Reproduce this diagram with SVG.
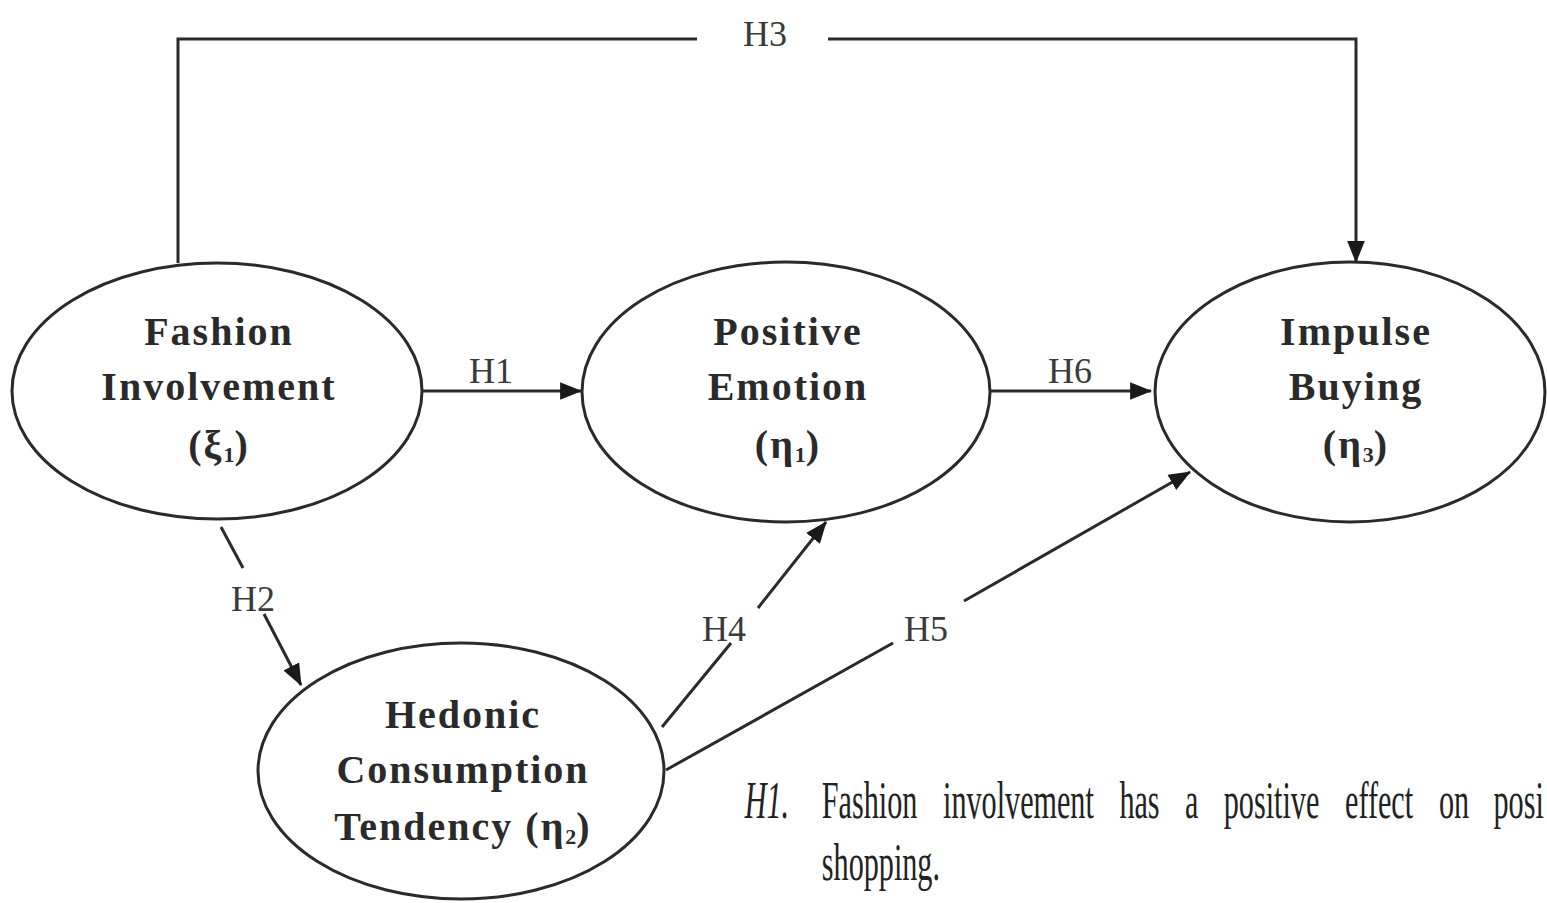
<svg xmlns="http://www.w3.org/2000/svg" width="1547" height="903" viewBox="0 0 1547 903">
<style>
.node ellipse{fill:#fff;stroke:#2a2a2a;stroke-width:3}
.nl{font-family:"Liberation Serif",serif;font-weight:bold;font-size:40px;letter-spacing:2px;fill:#2a2a2a;text-anchor:middle}
.sub{font-size:22px;letter-spacing:0}
.el{font-family:"Liberation Serif",serif;font-size:36px;fill:#3a3a3a;text-anchor:middle}
.conn path{fill:none;stroke:#2a2a2a;stroke-width:3}
.body{font-family:"Liberation Serif",serif;font-size:52px;fill:#222}
</style>
<defs>
<marker id="arr" viewBox="0 0 20 16" refX="19" refY="8" markerWidth="22" markerHeight="18" markerUnits="userSpaceOnUse" orient="auto">
<path d="M0,0 L20,8 L0,16 z" fill="#1a1a1a"/>
</marker>
</defs>
<rect width="1547" height="903" fill="#fff"/>
<g class="conn" id="connectors">
<path d="M178,263 V39 H697"/>
<path d="M828,39 H1356 V262" marker-end="url(#arr)"/>
<path d="M422,391 H581" marker-end="url(#arr)"/>
<path d="M990,391 H1151" marker-end="url(#arr)"/>
<path d="M221,527 L243,568"/>
<path d="M264,614 L301,685" marker-end="url(#arr)"/>
<path d="M662,727 L731,643"/>
<path d="M758,608 L826,522" marker-end="url(#arr)"/>
<path d="M666,770 L893,643"/>
<path d="M964,601 L1190,472" marker-end="url(#arr)"/>
<text class="el" x="765" y="46">H3</text>
<text class="el" x="491" y="383">H1</text>
<text class="el" x="1070" y="383">H6</text>
<text class="el" x="253" y="611">H2</text>
<text class="el" x="724" y="641">H4</text>
<text class="el" x="926" y="641">H5</text>
</g>
<g class="node" id="fashion">
<ellipse cx="217" cy="391" rx="205" ry="128"/>
<text class="nl" x="219" y="345">Fashion</text>
<text class="nl" x="219" y="400">Involvement</text>
<text class="nl" x="219" y="458">(ξ<tspan class="sub" dy="4">1</tspan><tspan dy="-4">)</tspan></text>
</g>
<g class="node" id="positive">
<ellipse cx="786" cy="392" rx="204" ry="130"/>
<text class="nl" x="788" y="345">Positive</text>
<text class="nl" x="788" y="400">Emotion</text>
<text class="nl" x="788" y="458">(η<tspan class="sub" dy="4">1</tspan><tspan dy="-4">)</tspan></text>
</g>
<g class="node" id="impulse">
<ellipse cx="1350" cy="392" rx="195" ry="130"/>
<text class="nl" x="1356" y="345">Impulse</text>
<text class="nl" x="1356" y="400">Buying</text>
<text class="nl" x="1356" y="458">(η<tspan class="sub" dy="4">3</tspan><tspan dy="-4">)</tspan></text>
</g>
<g class="node" id="hedonic">
<ellipse cx="461" cy="771" rx="203" ry="128"/>
<text class="nl" x="463" y="728">Hedonic</text>
<text class="nl" x="463" y="783">Consumption</text>
<text class="nl" x="463" y="840">Tendency (η<tspan class="sub" dy="4">2</tspan><tspan dy="-4">)</tspan></text>
</g>
<g id="caption">
<text class="body" transform="scale(0.58,1)" y="818"><tspan x="1284" font-style="italic">H1.</tspan><tspan x="1417">Fashion</tspan><tspan x="1626">involvement</tspan><tspan x="1930">has</tspan><tspan x="2043">a</tspan><tspan x="2110">positive</tspan><tspan x="2319">effect</tspan><tspan x="2481">on</tspan><tspan x="2575">posi</tspan></text>
<text class="body" transform="scale(0.58,1)" x="1417" y="880">shopping.</text>
</g>
</svg>
